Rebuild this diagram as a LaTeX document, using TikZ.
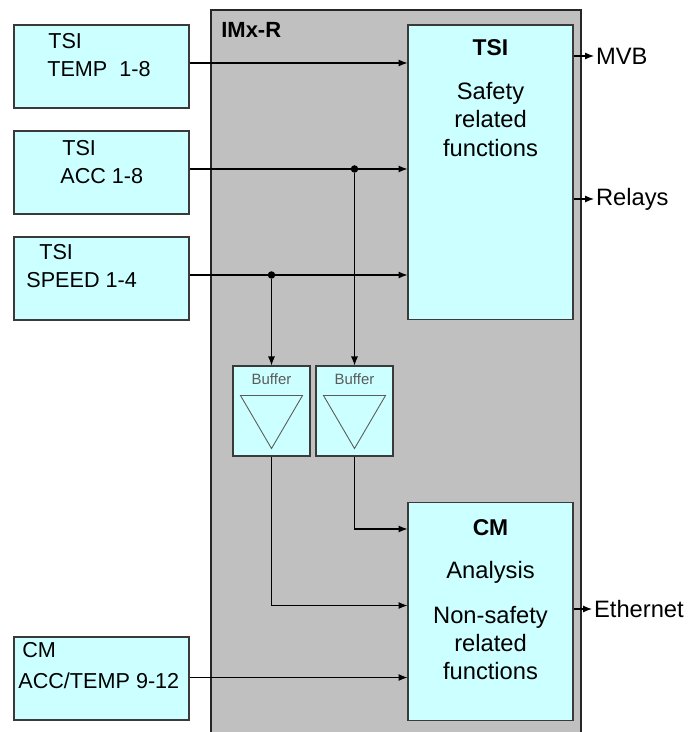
\documentclass[tikz,border=0pt]{standalone}
\usepackage{fontspec}
\setmainfont{Liberation Sans}
\usepackage{tikz}
\usetikzlibrary{arrows.meta, positioning, calc}
\definecolor{boxcyan}{HTML}{CCFFFF}
\definecolor{panelgray}{HTML}{C0C0C0}
\definecolor{edgegray}{HTML}{3A3A3A}
\definecolor{bufgray}{HTML}{5A5A5A}
\tikzset{
    inbox/.style={
        rectangle, draw=edgegray, fill=boxcyan, line width=0.6pt,
        minimum width=3.5cm, minimum height=1.66cm, inner sep=0pt
    },
    unitbox/.style={
        rectangle, draw=edgegray, fill=boxcyan, line width=0.6pt,
        minimum width=3.3cm, inner sep=0pt
    },
    bufbox/.style={
        rectangle, draw=edgegray, fill=boxcyan, line width=0.6pt,
        minimum width=1.54cm, minimum height=1.8cm, inner sep=0pt
    },
    intext/.style={
        anchor=west, inner sep=0pt, text depth=0pt, font=\fontsize{12.3}{14}\selectfont
    },
    unittext/.style={
        align=center, inner sep=0pt, font=\fontsize{13.5}{16.2}\selectfont
    },
    outtext/.style={
        anchor=west, inner sep=1pt, font=\fontsize{13.5}{16}\selectfont
    },
    tri/.style={draw=bufgray, line width=0.5pt},
    arrow/.style={
        line width=0.6pt, -{Latex[length=1.8mm, width=1.4mm]}
    },
    wire/.style={line width=0.6pt},
    jdot/.style={circle, fill=black, inner sep=0pt, minimum size=0.15cm}
}
\begin{document}
\begin{tikzpicture}[x=0.02cm, y=-0.02cm]
    \useasboundingbox (0,0) rectangle (692,732);

    % IMx-R Gehaeuse
    \fill[panelgray] (211,10) rectangle (581,740);
    \draw[line width=1.4pt, black!85] (211,740) -- (211,10) -- (581,10) -- (581,740);
    \node[anchor=west, inner sep=0pt, font=\bfseries\fontsize{12.5}{14}\selectfont] (imxlabel) at (221,30) {IMx-R};

    % Sensoreingaenge
    \node[inbox] (temp) at (101.5,66.5) {};
    \node[inbox] (acc) at (101.5,172.5) {};
    \node[inbox] (speed) at (101.5,278.5) {};
    \node[inbox] (cmin) at (101.5,678.5) {};

    \node[intext] (temp1) at (48,41) {TSI};
    \node[intext] (temp2) at (47,69) {TEMP\ \ 1-8};
    \node[intext] (acc1) at (62,148) {TSI};
    \node[intext] (acc2) at (60,176) {ACC 1-8};
    \node[intext] (speed1) at (39,252) {TSI};
    \node[intext] (speed2) at (26,280) {SPEED 1-4};
    \node[intext] (cmin1) at (22,650) {CM};
    \node[intext] (cmin2) at (18,681) {ACC/TEMP 9-12};

    % Verarbeitungseinheiten
    \node[unitbox, minimum height=5.9cm] (tsi) at (490.5,172.5) {};
    \node[unittext, font=\bfseries\fontsize{13}{16}\selectfont] (tsititle) at ($(tsi.north)+(0,23)$) {TSI};
    \node[unittext] (tsitext) at ($(tsi.north)+(0,95)$) {Safety\\related\\functions};

    \node[unitbox, minimum height=4.36cm] (cm) at (490.5,611.5) {};
    \node[unittext, font=\bfseries\fontsize{13}{16}\selectfont] (cmtitle) at ($(cm.north)+(0,26)$) {CM};
    \node[unittext] (cmtext1) at ($(cm.north)+(0,70)$) {Analysis};
    \node[unittext] (cmtext2) at ($(cm.north)+(0,141)$) {Non-safety\\related\\functions};

    % Puffer
    \node[bufbox] (buf1) at (271.5,411) {};
    \node[bufbox] (buf2) at (354.5,411) {};
    \foreach \b in {buf1, buf2} {
        \node[inner sep=0pt, text=bufgray, font=\fontsize{8.5}{10}\selectfont] (\b lbl) at ($(\b.north)+(0,14)$) {Buffer};
        \draw[tri] ($(\b.north west)+(8,30)$) -- ($(\b.north east)+(-8,30)$) -- ($(\b.south)+(0,-8)$) -- cycle;
    }

    % Ausgaenge
    \node[outtext] (mvb) at (594,56) {MVB};
    \node[outtext] (relays) at (594,199) {Relays};
    \node[outtext] (eth) at (592,609) {Ethernet};
    \draw[arrow] (mvb.west -| tsi.east) -- (mvb.west);
    \draw[arrow] (relays.west -| tsi.east) -- (relays.west);
    \draw[arrow] (eth.west -| cm.east) -- (eth.west);

    % Signalleitungen
    \coordinate (t1) at ($(temp.east)+(0,-3.5)$);
    \coordinate (t2) at ($(acc.east)+(0,-3.5)$);
    \coordinate (t3) at ($(speed.east)+(0,-3.5)$);
    \coordinate (t4) at ($(cmin.east)+(0,-1)$);
    \draw[arrow] (t1) -- (t1 -| tsi.west);
    \draw[arrow] (t2) -- (t2 -| tsi.west);
    \draw[arrow] (t3) -- (t3 -| tsi.west);
    \draw[arrow] (t4) -- (t4 -| cm.west);

    \node[jdot] (j1) at (t2 -| buf2.north) {};
    \node[jdot] (j2) at (t3 -| buf1.north) {};
    \draw[arrow] (j1) -- (buf2.north);
    \draw[arrow] (j2) -- (buf1.north);

    \coordinate (c1) at ($(cm.north west)+(0,27)$);
    \coordinate (c2) at ($(cm.west)+(0,-6)$);
    \draw[arrow] (buf2.south) |- (c1);
    \draw[arrow] (buf1.south) |- (c2);
\end{tikzpicture}
\end{document}
